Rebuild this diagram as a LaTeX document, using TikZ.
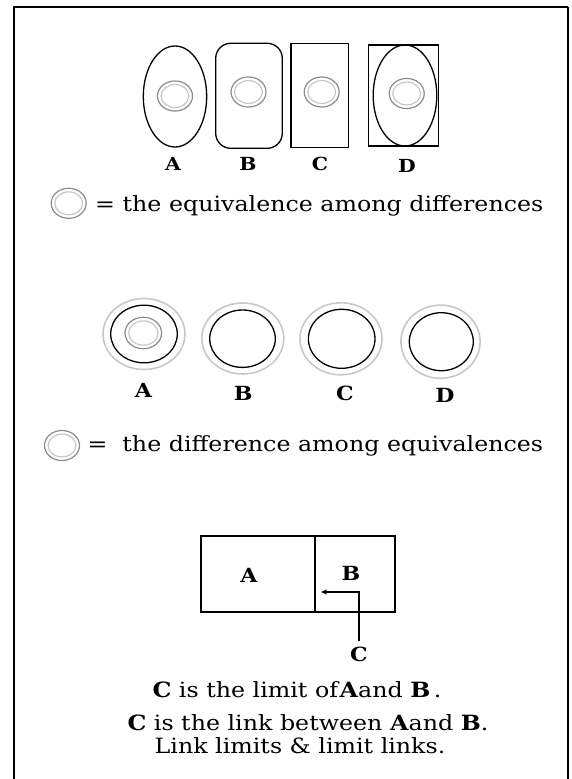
\documentclass[tikz,border=0pt]{standalone}
\usepackage{fontspec}
\setmainfont{DejaVu Serif}
\newfontfamily\widefont[FakeStretch=1.13]{DejaVu Serif}
\usetikzlibrary{arrows.meta}
\definecolor{ringdark}{HTML}{8C8C8C}
\definecolor{ringlight}{HTML}{C8C8C8}
\tikzset{
  lbl/.style={font=\widefont\fontsize{18}{20}\selectfont\bfseries, inner sep=0pt},
  lblm/.style={font=\widefont\fontsize{19.5}{21}\selectfont\bfseries, inner sep=0pt},
  txt/.style={font=\widefont\fontsize{21}{24}\selectfont, inner sep=0pt},
  outl/.style={draw=black, line width=1.3pt},
  ringo/.style={draw=ringdark, line width=1.2pt},
  ringi/.style={draw=ringlight, line width=1.2pt},
  halo/.style={draw=ringlight, line width=1.6pt},
}
\begin{document}
\begin{tikzpicture}[x=1pt,y=-1pt]
\useasboundingbox (0,0) rectangle (571,779);
% frame
\draw[line width=1.6pt] (14,779) -- (14,7) -- (568,7);
\draw[line width=2.6pt] (568,7) -- (568,779);

% --- top row
\newcommand{\smallring}[3]{%
  \draw[ringo] (#1,#2) ellipse [x radius=#3, y radius=#3*0.86];
  \draw[ringi] (#1,#2) ellipse [x radius=#3-3.6, y radius=#3*0.86-3.6];}
\draw[outl] (175,96.5) ellipse [x radius=31.7, y radius=50.5];
\smallring{175}{96}{17.5}
\draw[outl, rounded corners=15pt] (215.7,43.3) rectangle (282.3,148.3);
\smallring{248.5}{92}{17.5}
\draw[outl] (291,43.3) rectangle (348.7,147.3);
\smallring{321.7}{92}{17.5}
\draw[outl] (368.3,45) rectangle (438.3,146);
\draw[outl] (405,95.5) ellipse [x radius=31.8, y radius=50.5];
\smallring{406.7}{93.5}{17.5}
\node[lbl] (ta) at (173,164) {A};
\node[lbl] (tb) at (248,164) {B};
\node[lbl] (tc) at (320,164) {C};
\node[lbl] (td) at (407,166) {D};

% legend 1
\smallring{68.7}{203.3}{17.5}
\node[txt, anchor=base west] (leg1) at (95,211.7) {= the equivalence among differences};

% --- middle row
\draw[halo] (144,334) ellipse [x radius=41, y radius=35.5];
\draw[outl] (144,334) ellipse [x radius=33.3, y radius=28.8];
\smallring{143.3}{333}{18.3}
\draw[halo] (242.8,338.5) ellipse [x radius=41, y radius=35.5];
\draw[outl] (242.5,338.7) ellipse [x radius=32.8, y radius=28.7];
\draw[halo] (341,338.8) ellipse [x radius=41, y radius=36];
\draw[outl] (341.7,338.8) ellipse [x radius=33.3, y radius=29.5];
\draw[halo] (440.5,341.7) ellipse [x radius=39.6, y radius=36.6];
\draw[outl] (441.3,341.7) ellipse [x radius=32, y radius=29];
\node[lblm] (ma) at (143.3,390) {A};
\node[lblm] (mb) at (243.3,393) {B};
\node[lblm] (mc) at (345,393) {C};
\node[lblm] (md) at (445,395) {D};

% legend 2
\smallring{62}{445.5}{17.5}
\node[txt, anchor=base west] (leg2) at (87.3,451.7) {=\ \ the difference among equivalences};

% --- bottom boxes
\draw[line width=1.2pt] (201,536) rectangle (395,612);
\draw[line width=2.8pt] (315,536) -- (315,612);
\coordinate (lim) at (321,592);
\node[lblm] (ba) at (249,575) {A};
\node[lblm] (bb) at (351,573) {B};
\node[lblm] (bc) at (359,654) {C};
\draw[line width=1.2pt, -{Stealth[length=6pt,width=5pt]}] (bc.north) ++(0,-5) |- (lim);

% bottom text
\node[txt, anchor=base] (t1) at (297,697) {\textbf{C} is the limit of\textbf{A}and \textbf{B}\,.};
\node[txt, anchor=base] (t2) at (308,730) {\textbf{C} is the link between \textbf{A}and \textbf{B}.};
\node[txt, anchor=base] (t3) at (300,753) {Link limits \& limit links.};
\end{tikzpicture}
\end{document}
